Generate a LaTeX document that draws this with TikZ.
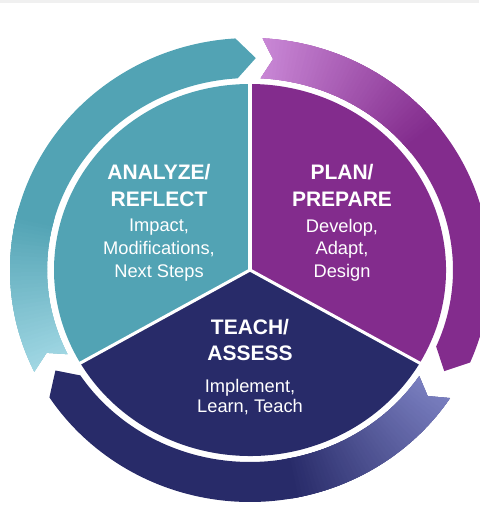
\documentclass[tikz,border=0pt]{standalone}
\usepackage{fontspec}
\setmainfont{Liberation Sans}
\definecolor{tealpie}{RGB}{82,163,180}
\definecolor{tealtail}{RGB}{165,218,230}
\definecolor{plumpie}{RGB}{131,44,141}
\definecolor{plumtail}{RGB}{203,138,216}
\definecolor{navypie}{RGB}{40,43,105}
\definecolor{navytail}{RGB}{122,127,192}
\tikzstyle{heading}=[text=white, align=center, font=\bfseries\fontsize{15.75}{20}\selectfont]
\tikzstyle{body}=[text=white, align=center, font=\fontsize{13.7}{17}\selectfont]
\tikzstyle{divider}=[white, line width=2.3pt]
% ring arrow, tail angle #1 to head angle #2 (clockwise)
\newcommand\ringarrow[2]{(#1:203 and 192) -- (#1-3:221 and 212) -- (#1:240 and 232)
  arc[start angle=#1, end angle=#2, x radius=240, y radius=232]
  -- (#2-5:221 and 212) -- (#2:203 and 192)
  arc[start angle=#2, end angle=#1, x radius=203, y radius=192] -- cycle}

\begin{document}
\begin{tikzpicture}[x=0.75pt, y=0.75pt]
\useasboundingbox (0,0) rectangle (479,510);
\fill[black!6] (0,507) rectangle (479,510);
\begin{scope}[shift={(250,240)}]
% Pie
    \coordinate (hub) at (0,0);
    \fill[tealpie] (hub) -- (90:196 and 186) arc[start angle=90, end angle=210, x radius=196, y radius=186] -- cycle;
    \fill[navypie] (hub) -- (210:196 and 186) arc[start angle=210, end angle=330, x radius=196, y radius=186] -- cycle;
    \fill[plumpie] (hub) -- (-30:196 and 186) arc[start angle=-30, end angle=90, x radius=196, y radius=186] -- cycle;
    \coordinate (rimtop) at (90:200 and 190);
    \coordinate (rimleft) at (210:200 and 190);
    \coordinate (rimright) at (330:200 and 190);
    \draw[divider] (hub) -- (rimtop);
    \draw[divider] (hub) -- (rimleft);
    \draw[divider] (hub) -- (rimright);
% Ring arrows
    \fill[tealpie] \ringarrow{206}{93.5};
    \begin{scope}
        \clip \ringarrow{206}{93.5};
        \foreach \i in {0,...,40} {
            \pgfmathsetmacro\a{206-\i}
            \pgfmathsetmacro\p{\i*2.5}
            \fill[tealpie!\p!tealtail] (hub) -- (\a+1.5:300 and 300) -- (\a-1:300 and 300) -- cycle;
        }
    \end{scope}
    \fill[plumpie] \ringarrow{87}{-23.5};
    \begin{scope}
        \clip \ringarrow{87}{-23.5};
        \foreach \i in {0,...,50} {
            \pgfmathsetmacro\a{87-\i}
            \pgfmathsetmacro\p{\i*2}
            \fill[plumpie!\p!plumtail] (hub) -- (\a+1.5:300 and 300) -- (\a-1:300 and 300) -- cycle;
        }
    \end{scope}
    \fill[navypie] \ringarrow{-33.5}{-146.7};
    \begin{scope}
        \clip \ringarrow{-33.5}{-146.7};
        \foreach \i in {0,...,46} {
            \pgfmathsetmacro\a{-33.5-\i}
            \pgfmathsetmacro\p{\i*100/46}
            \fill[navypie!\p!navytail] (hub) -- (\a+1.5:300 and 300) -- (\a-1:300 and 300) -- cycle;
        }
    \end{scope}
% Labels
    \node[heading] (analyzehead) at (-91,84.5) {ANALYZE/\\REFLECT};
    \node[body] (analyzetext) at (-91,20) {Impact,\\Modifications,\\Next Steps};
    \node[heading] (planhead) at (92,84.5) {PLAN/\\PREPARE};
    \node[body] (plantext) at (92,20) {Develop,\\Adapt,\\Design};
    \node[heading] (teachhead) at (0,-70) {TEACH/\\ASSESS};
    \node[body, font=\fontsize{13.7}{15.5}\selectfont] (teachtext) at (0,-127) {Implement,\\Learn, Teach};
\end{scope}
\end{tikzpicture}
\end{document}
